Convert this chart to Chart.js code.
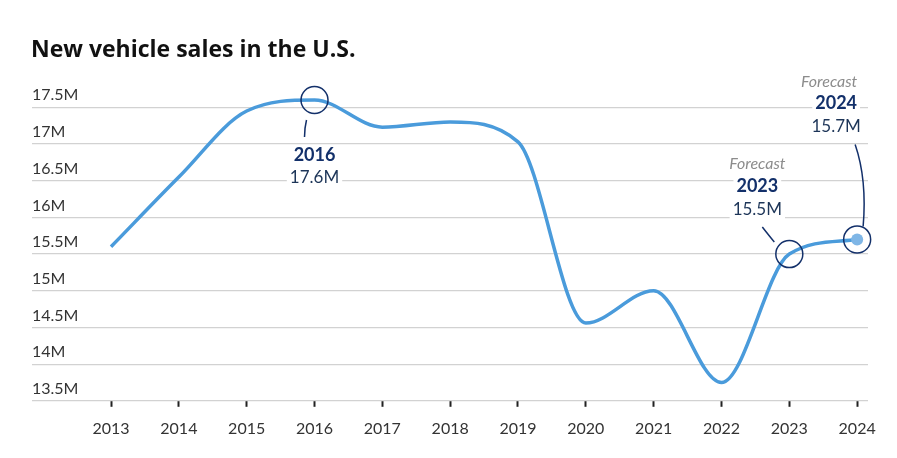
<!DOCTYPE html>
<html>
<head>
<meta charset="utf-8">
<script src="https://cdn.jsdelivr.net/npm/chart.js@4.4.1/dist/chart.umd.min.js"></script>
<style>
  html, body { margin: 0; padding: 0; background: #fff; }
  #wrap { width: 897px; height: 458px; position: relative; }
</style>
</head>
<body>
<div id="wrap"><canvas id="salesChart"></canvas></div>
<script>
// data
var years = [2013, 2014, 2015, 2016, 2017, 2018, 2019, 2020, 2021, 2022, 2023, 2024];
var sales = [15.6, 16.55, 17.45, 17.6, 17.23, 17.3, 17.03, 14.56, 15.0, 13.75, 15.5, 15.7];
var yTicks = [13.5, 14, 14.5, 15, 15.5, 16, 16.5, 17, 17.5];

// callouts
var noteYears = [2016, 2023, 2024];
var noteValues = ['17.6M', '15.5M', '15.7M'];
var noteForecast = [false, true, true];

var FONT = 'Lato, "Open Sans", sans-serif';
var NAVY = '#13306a';

function knockText(ctx, txt, x, y, font, color) {
  ctx.font = font;
  let w = ctx.measureText(txt).width;
  ctx.fillStyle = '#fff';
  ctx.fillRect(x - w / 2 - 3, y - 10, w + 6, 20);
  ctx.fillStyle = color;
  ctx.textAlign = 'center';
  ctx.textBaseline = 'middle';
  ctx.fillText(txt, x, y);
}

var notesPlugin = {
  id: 'notes',
  afterDraw: function(chart) {
    const ctx = chart.ctx;
    const xs = chart.scales.x;
    const ys = chart.scales.y;
    ctx.save();

    // title
    ctx.font = 'bold 23px "Open Sans", sans-serif';
    ctx.fillStyle = '#111';
    ctx.textAlign = 'left';
    ctx.textBaseline = 'alphabetic';
    ctx.fillText('New vehicle sales in the U.S.', 31, 57);

    for (let i = 0; i < noteYears.length; i++) {
      let idx = years.indexOf(noteYears[i]);
      let px = xs.getPixelForValue(noteYears[i]);
      let py = ys.getPixelForValue(sales[idx]);

      // ring round the point
      ctx.beginPath();
      ctx.arc(px, py, 13.5, 0, Math.PI * 2);
      ctx.strokeStyle = NAVY;
      ctx.lineWidth = 1.5;
      ctx.stroke();

      let tx, ty;
      ctx.beginPath();
      if (i == 0) {
        tx = px; ty = py + 55;
        ctx.moveTo(px - 8, py + 20);
        ctx.quadraticCurveTo(px - 10, py + 28, px - 10, py + 37);
      } else if (i == 1) {
        tx = px - 32; ty = py - 68;
        ctx.moveTo(px - 27, py - 27);
        ctx.quadraticCurveTo(px - 20, py - 18, px - 15, py - 12);
      } else {
        tx = px - 21; ty = py - 136;
        ctx.moveTo(px - 2, py - 95);
        ctx.quadraticCurveTo(px + 10, py - 60, px + 6, py - 13);
      }
      ctx.stroke();

      if (noteForecast[i]) {
        ctx.font = 'italic 16px ' + FONT;
        ctx.fillStyle = '#8c8c8c';
        ctx.textAlign = 'center';
        ctx.textBaseline = 'middle';
        let fx = (i == 2) ? tx - 7 : tx;
        ctx.fillText('Forecast', fx, ty - 22);
      }
      knockText(ctx, String(noteYears[i]), tx, ty, 'bold 18px ' + FONT, NAVY);
      knockText(ctx, noteValues[i], tx, ty + 23, '17px ' + FONT, '#1d3558');
    }
    ctx.restore();
  }
};

var points = years.map(function(y, i) { return { x: y, y: sales[i] }; });

const ctx = document.getElementById('salesChart').getContext('2d');
var salesChart = new Chart(ctx, {
  type: 'line',
  data: {
    datasets: [{
      data: points,
      borderColor: '#4a9bdb',
      borderWidth: 3.5,
      cubicInterpolationMode: 'monotone',
      pointRadius: function(c) { return c.dataIndex == years.length - 1 ? 6 : 0; },
      pointBackgroundColor: '#7fb6e6',
      pointBorderWidth: 0,
      pointHoverRadius: 0
    }]
  },
  options: {
    responsive: true,
    maintainAspectRatio: false,
    animation: false,
    layout: { padding: { left: 32, right: 29, top: 89, bottom: 8 } },
    plugins: {
      legend: { display: false },
      tooltip: { enabled: false },
      title: { display: false }
    },
    scales: {
      x: {
        type: 'linear',
        min: 2011.835,
        max: 2024.16,
        grid: {
          drawOnChartArea: false,
          drawTicks: true,
          tickLength: 6,
          tickColor: '#222',
          tickWidth: 2
        },
        border: { display: false },
        afterBuildTicks: function(axis) {
          axis.ticks = years.map(function(y) { return { value: y }; });
        },
        ticks: {
          padding: 12,
          color: '#333',
          font: { family: FONT, size: 16 },
          callback: function(v) { return String(v); }
        }
      },
      y: {
        min: 13.5,
        max: 17.75,
        grid: { color: '#d2d2d2', lineWidth: 1.2, drawTicks: false },
        border: { display: false },
        afterBuildTicks: function(axis) {
          axis.ticks = yTicks.map(function(v) { return { value: v }; });
        },
        ticks: {
          mirror: true,
          padding: 0,
          labelOffset: -12,
          color: '#333',
          font: { family: FONT, size: 16 },
          callback: function(v) { return v + 'M'; }
        }
      }
    }
  },
  plugins: [notesPlugin]
});
</script>
</body>
</html>
